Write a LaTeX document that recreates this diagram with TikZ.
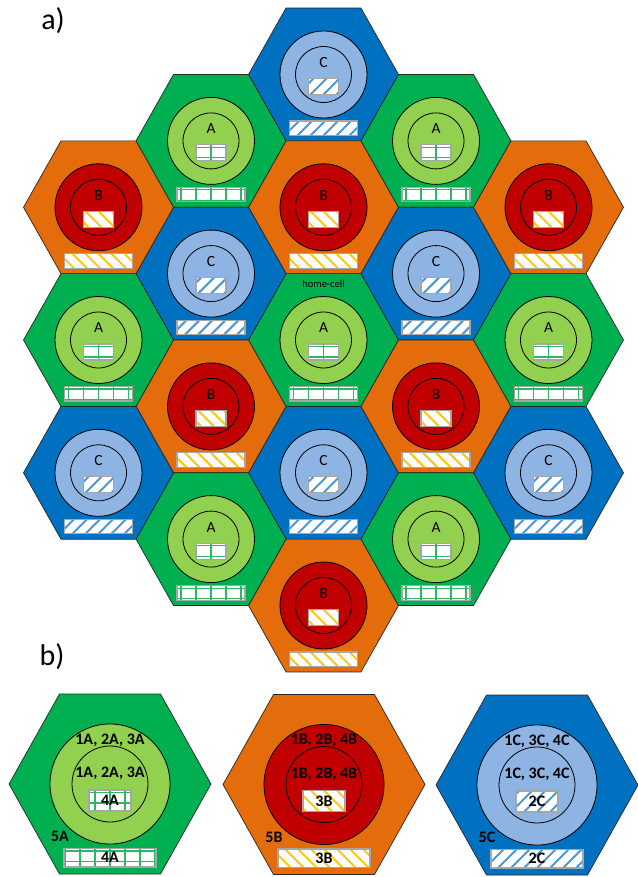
\documentclass[tikz,border=0pt]{standalone}
\usepackage{fontspec}
\setmainfont{Carlito}
\definecolor{hexA}{HTML}{00B050}
\definecolor{circA}{HTML}{92D050}
\definecolor{hexB}{HTML}{E46C0A}
\definecolor{circB}{HTML}{C00000}
\definecolor{hexC}{HTML}{0070C0}
\definecolor{circC}{HTML}{8EB4E3}
\definecolor{lineA}{HTML}{2DB865}
\definecolor{lineB}{HTML}{FFC61A}
\definecolor{lineC}{HTML}{4A98D8}
\definecolor{boxgray}{HTML}{A6A6A6}
\tikzset{
  hexline/.style={draw=black!85, line width=0.7pt, line join=miter},
  ringline/.style={draw=black, line width=0.8pt},
  boxline/.style={draw=boxgray, line width=1.1pt},
  gridA/.style={draw=lineA, line width=1.2pt},
  stripeB/.style={draw=lineB, line width=2pt},
  stripeC/.style={draw=lineC, line width=2pt},
  celllabel/.style={font=\fontsize{15.5}{15.5}\selectfont, inner sep=0pt},
  homelabel/.style={font=\fontsize{10.5}{10.5}\selectfont, inner sep=0pt},
  panellabel/.style={font=\fontsize{30}{30}\selectfont, inner sep=0pt},
  boldlabel/.style={font=\bfseries\fontsize{16}{16}\selectfont, inner sep=0pt},
}
\newcommand\patA[4]{%
  \foreach \k in {-7,...,7} {\draw[gridA] ({\k*15},#2) -- ({\k*15},#4);}
  \foreach \j in {2.5,13,23.5} {\draw[gridA] (#1,{#2+\j}) -- (#3,{#2+\j});}
}
\newcommand\patB[4]{%
  \pgfmathsetmacro\hh{#4-#2}%
  \foreach \k in {-9,...,8} {\draw[stripeB] ({\k*13},#2) -- ({\k*13+\hh},#4);}
}
\newcommand\patC[4]{%
  \pgfmathsetmacro\hh{#4-#2}%
  \foreach \k in {-9,...,8} {\draw[stripeC] ({\k*13},#4) -- ({\k*13+\hh},#2);}
}
\newcommand\patrect[5]{%
  \begin{scope}
    \clip (#2,#3) rectangle (#4,#5);
    \fill[white] (#2,#3) rectangle (#4,#5);
    \csname pat#1\endcsname{#2}{#3}{#4}{#5}
  \end{scope}
  \draw[boxline] (#2,#3) rectangle (#4,#5);
}
% small cell: x, y, type, name
\newcommand\smallcell[4]{%
  \begin{scope}[shift={(#1,#2)}]
    \filldraw[hexline, fill=hex#3] (-75,0) -- (-37.5,-66.4) -- (37.5,-66.4) -- (75,0) -- (37.5,66.4) -- (-37.5,66.4) -- cycle;
    \filldraw[ringline, fill=circ#3] (0,0) circle [radius=43.5pt];
    \draw[ringline] (0,0) circle [radius=28pt];
    \node[celllabel] (#4) at (0,-12) {#3};
    \patrect{#3}{-15}{4}{15}{20}
    \patrect{#3}{-34}{46.5}{34}{61}
  \end{scope}}
% big cell: x, y, type, ring text, box text, outer text, name
\newcommand\bigcell[7]{%
  \begin{scope}[shift={(#1,#2)}]
    \filldraw[hexline, fill=hex#3] (-101,0) -- (-50.5,-90) -- (50.5,-90) -- (101,0) -- (50.5,90) -- (-50.5,90) -- cycle;
    \filldraw[ringline, fill=circ#3] (0,0) circle [radius=60pt];
    \draw[ringline] (0,0) circle [radius=38pt];
    \patrect{#3}{-21}{6}{21}{27}
    \patrect{#3}{-46}{64.5}{46}{83}
    \node[boldlabel] (#7-o) at (0,-44) {#4};
    \node[boldlabel] (#7-i) at (0,-10.5) {#4};
    \node[boldlabel] (#7-s) at (0,16.5) {#5};
    \node[boldlabel] (#7-b) at (0,73.75) {#5};
    \node[boldlabel] (#7-f) at (-50,52.5) {#6};
  \end{scope}}
\begin{document}
\begin{tikzpicture}[x=1pt, y=-1pt]
\useasboundingbox (0,0) rectangle (637,877);
% column 0
\smallcell{323.5}{74.5}{C}{c0a}
\smallcell{323.5}{207.3}{B}{c0b}
\smallcell{323.5}{340}{A}{c0c}
\smallcell{323.5}{472.8}{C}{c0d}
\smallcell{323.5}{605.5}{B}{c0e}
% columns -1 and +1
\smallcell{211}{140.9}{A}{cla}
\smallcell{211}{273.6}{C}{clb}
\smallcell{211}{406.4}{B}{clc}
\smallcell{211}{539.1}{A}{cld}
\smallcell{436}{140.9}{A}{cra}
\smallcell{436}{273.6}{C}{crb}
\smallcell{436}{406.4}{B}{crc}
\smallcell{436}{539.1}{A}{crd}
% columns -2 and +2
\smallcell{98.5}{207.3}{B}{cLa}
\smallcell{98.5}{340}{A}{cLb}
\smallcell{98.5}{472.8}{C}{cLc}
\smallcell{548.5}{207.3}{B}{cRa}
\smallcell{548.5}{340}{A}{cRb}
\smallcell{548.5}{472.8}{C}{cRc}
\node[homelabel] (home) at (323.5,283.5) {home-cell};
\node[panellabel] (pa) at (53,21) {a)};
\node[panellabel] (pb) at (52,657) {b)};
% part b
\bigcell{110}{784}{A}{1A, 2A, 3A}{4A}{5A}{bA}
\bigcell{324}{784.5}{B}{1B, 2B, 4B}{3B}{5B}{bB}
\bigcell{537}{785}{C}{1C, 3C, 4C}{2C}{5C}{bC}
\end{tikzpicture}
\end{document}
